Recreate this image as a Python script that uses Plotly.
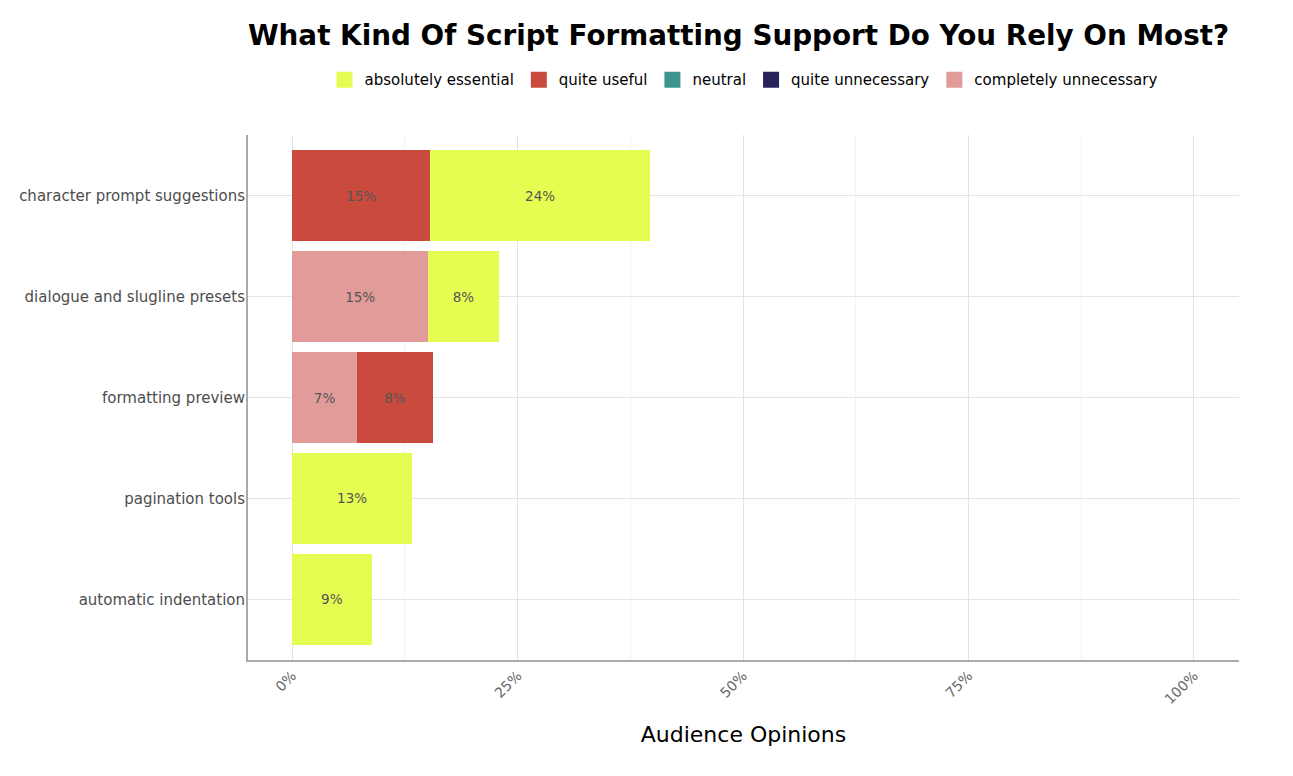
import plotly.graph_objects as go

# categories, top to bottom as in the picture
features = [
    "character prompt suggestions",
    "dialogue and slugline presets",
    "formatting preview",
    "pagination tools",
    "automatic indentation",
]

# share of respondents (%) per answer, same order as features
absolutely_essential = [24.4, 7.8, 0.0, 13.3, 8.8]
quite_useful = [15.3, 0.0, 8.4, 0.0, 0.0]
neutral = [0.0, 0.0, 0.0, 0.0, 0.0]
quite_unnecessary = [0.0, 0.0, 0.0, 0.0, 0.0]
completely_unnecessary = [0.0, 15.1, 7.2, 0.0, 0.0]

x_ticks = [0, 25, 50, 75, 100]

# stacked left to right: completely unnecessary ... absolutely essential
series = [
    ("completely unnecessary", completely_unnecessary, "#e19b98"),
    ("quite unnecessary", quite_unnecessary, "#27245a"),
    ("neutral", neutral, "#3f9490"),
    ("quite useful", quite_useful, "#cb4a3e"),
    ("absolutely essential", absolutely_essential, "#e5fc50"),
]

# plotly draws categories bottom-up, so flip for top-to-bottom order
cats = features[::-1]

fig = go.Figure()
for name, vals, color in series:
    v = vals[::-1]
    labels = [f"{round(x)}%" if x > 0 else "" for x in v]
    fig.add_trace(
        go.Bar(
            y=cats,
            x=v,
            name=name,
            orientation="h",
            marker=dict(color=color, line=dict(width=0)),
            text=labels,
            textposition="inside",
            insidetextanchor="middle",
            textangle=0,
            textfont=dict(family="DejaVu Sans", size=13.5, color="#555555"),
            width=0.9,
            showlegend=False,
        )
    )

# legend keys: big square swatches like the original
for name, vals, color in series:
    fig.add_trace(
        go.Scatter(
            x=[None],
            y=[None],
            mode="markers",
            name=name,
            marker=dict(symbol="square", size=27, color=color),
            showlegend=True,
        )
    )

# the page body adds an 8px offset, so margins are trimmed to match
fig.update_layout(
    width=1293,
    height=776,
    barmode="stack",
    plot_bgcolor="white",
    paper_bgcolor="white",
    margin=dict(l=240, r=62, t=127, b=124),
    font=dict(family="DejaVu Sans", color="#4d4d4d"),
    uniformtext=dict(minsize=13, mode="show"),
    title=dict(
        text="<b>What Kind Of Script Formatting Support Do You Rely On Most?</b>",
        font=dict(family="DejaVu Sans", size=27.8, color="black"),
        x=0.565,
        xanchor="center",
        y=0.965,
        yanchor="middle",
    ),
    legend=dict(
        orientation="h",
        traceorder="reversed",
        x=0.5,
        xanchor="center",
        y=1.105,
        yanchor="middle",
        font=dict(family="DejaVu Sans", size=15, color="black"),
        itemwidth=30,
    ),
    xaxis=dict(
        range=[-4.9, 105],
        tickvals=x_ticks,
        ticktext=[f"{t}%" for t in x_ticks],
        tickangle=-45,
        tickfont=dict(size=14, color="#666666"),
        showgrid=True,
        gridcolor="#e3e3e3",
        gridwidth=1,
        minor=dict(tickvals=[12.5, 37.5, 62.5, 87.5], showgrid=True, gridcolor="#f3f3f3", gridwidth=1),
        showline=True,
        linecolor="#aaaaaa",
        linewidth=2,
        zeroline=False,
        ticks="",
        title=dict(
            text="Audience Opinions",
            font=dict(family="DejaVu Sans", size=22, color="black"),
            standoff=20,
        ),
    ),
    yaxis=dict(
        categoryorder="array",
        categoryarray=cats,
        range=[-0.6, 4.6],
        tickfont=dict(size=15, color="#4d4d4d"),
        showgrid=True,
        gridcolor="#e3e3e3",
        gridwidth=1,
        showline=True,
        linecolor="#aaaaaa",
        linewidth=2,
        zeroline=False,
        ticks="",
        ticklabelstandoff=-2,
    ),
)

fig.write_html("out.html")
